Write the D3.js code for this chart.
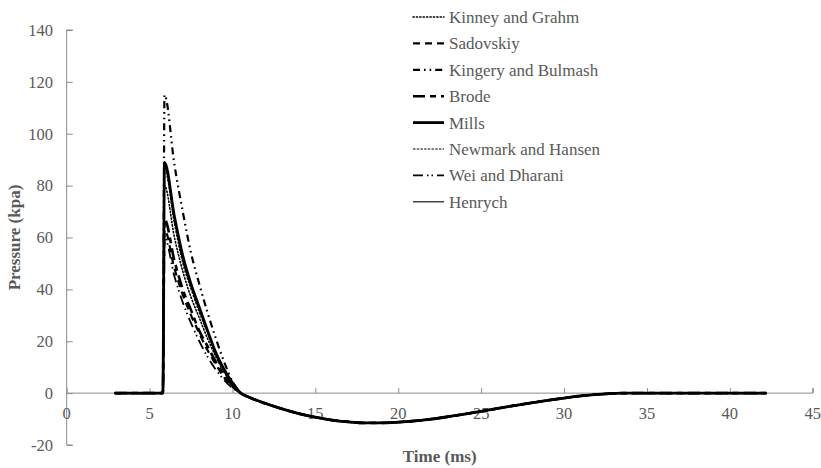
<!DOCTYPE html>
<html>
<head>
<meta charset="utf-8">
<script src="https://cdn.jsdelivr.net/npm/d3@7"></script>
<style>
  body { margin: 0; background: #fff; }
  svg { display: block; }
  text { font-family: "Liberation Serif", "Times New Roman", serif; }
</style>
</head>
<body>
<script>
// time samples (ms) for the positive phase, shared by all models
const timePos = [2.9, 5.8, 5.9, 6.5, 7, 7.5, 8, 8.5, 9, 9.5, 10, 10.5];
// negative phase (common to all models)
const timeNeg = [11, 12, 13, 14, 15, 16, 17, 18, 19, 20, 21, 22, 23, 24, 25, 26, 27, 28, 29, 30, 31, 32, 33, 33.5, 35, 42.2];
const valNeg  = [-1.6, -4.0, -6.1, -7.9, -9.3, -10.4, -11.1, -11.5, -11.5, -11.2, -10.7, -10.0, -9.1, -8.1, -7.0, -5.9, -4.8, -3.8, -2.8, -1.9, -1.1, -0.5, -0.1, 0, 0, 0];

const names = ["Kinney and Grahm", "Sadovskiy", "Kingery and Bulmash", "Brode", "Mills", "Newmark and Hansen", "Wei and Dharani", "Henrych"];
const kinney   = [0, 0, 80, 60, 47, 37, 29, 21, 14, 8, 3.5, 0];
const sadovsk  = [0, 0, 63, 48, 38, 30, 23, 16.5, 11, 6, 2.5, 0];
const kingery  = [0, 0, 115, 88, 70, 54, 42, 31, 21, 12, 4.5, 0];
const brode    = [0, 0, 67, 51, 40, 32, 24, 18, 12, 7, 3, 0];
const mills    = [0, 0, 89, 68, 53, 42, 33, 24, 15.5, 9, 4, 0];
const newmark  = [0, 0, 86, 65, 50, 40, 31, 23, 15, 9, 4, 0];
const wei      = [0, 0, 60, 45, 35, 27, 20, 14, 9, 5, 2, 0];
const henrych  = [0, 0, 88, 67, 51, 41, 32, 23.5, 15, 8.5, 4, 0];
const seriesVals = [kinney, sadovsk, kingery, brode, mills, newmark, wei, henrych];

const xTicks = d3.range(0, 46, 5);
const yTicks = d3.range(-20, 141, 20);

// line styles per model
const styles = [
  { w: 1.6, dash: "1.2,2.2", cap: "round" },
  { w: 2.2, dash: "7,5", cap: "butt" },
  { w: 2.2, dash: "7,4,1.6,4,1.6,4", cap: "butt" },
  { w: 2.6, dash: "12,5,6,5", cap: "butt" },
  { w: 2.8, dash: null, cap: "butt" },
  { w: 1.1, dash: "2.5,1.2", cap: "butt" },
  { w: 1.8, dash: "10,4,1.5,3,1.5,4", cap: "butt" },
  { w: 1.1, dash: null, cap: "butt" }
];

const W = 821, H = 468;
const x = d3.scaleLinear().domain([0, 45]).range([66.7, 812.7]);
const y = d3.scaleLinear().domain([-20, 140]).range([445, 30]);

const svg = d3.select("body").append("svg").attr("width", W).attr("height", H);

const axisCol = "#8c8c8c", textCol = "#595959";

// y axis
const gy = svg.append("g").attr("transform", `translate(${x(0)},0)`)
  .call(d3.axisRight(y).tickValues(yTicks).tickSize(6).tickFormat(""));
gy.select(".domain").attr("stroke", axisCol).attr("d", `M6,${y(-20)}H0V${y(140)}H6`);
gy.selectAll(".tick line").attr("stroke", axisCol);
svg.append("g").selectAll("text").data(yTicks).join("text")
  .attr("x", 53).attr("y", d => y(d)).attr("dy", "0.35em")
  .attr("text-anchor", "end").attr("fill", textCol).attr("font-size", 16.5)
  .text(d => d);

// x axis at zero
const gx = svg.append("g").attr("transform", `translate(0,${y(0)})`)
  .call(d3.axisTop(x).tickValues(xTicks).tickSize(5).tickFormat(""));
gx.select(".domain").attr("stroke", axisCol).attr("d", `M${x(0)},0H${x(45)}V-5`);
gx.selectAll(".tick line").attr("stroke", axisCol);
svg.append("g").selectAll("text").data(xTicks).join("text")
  .attr("x", d => x(d)).attr("y", y(0) + 20).attr("dy", "0.35em")
  .attr("text-anchor", "middle").attr("fill", textCol).attr("font-size", 16.5)
  .text(d => d);

// axis titles
svg.append("text").attr("x", x(22.5)).attr("y", 462)
  .attr("text-anchor", "middle").attr("font-weight", "bold").attr("font-size", 17)
  .attr("fill", textCol).text("Time (ms)");
svg.append("text").attr("transform", `translate(20,${y(60)}) rotate(-90)`)
  .attr("text-anchor", "middle").attr("font-weight", "bold").attr("font-size", 17)
  .attr("fill", textCol).text("Pressure (kpa)");

// series
const line = d3.line().x(d => x(d[0])).y(d => y(d[1])).curve(d3.curveMonotoneX);
const data = seriesVals.map((vals, i) => ({
  name: names[i],
  style: styles[i],
  pts: timePos.map((t, j) => [t, vals[j]]).concat(timeNeg.map((t, j) => [t, valNeg[j]]))
}));

svg.append("g").selectAll("path").data(data).join("path")
  .attr("d", d => line(d.pts))
  .attr("fill", "none").attr("stroke", "#000")
  .attr("stroke-width", d => d.style.w)
  .attr("stroke-dasharray", d => d.style.dash)
  .attr("stroke-linecap", d => d.style.cap);

// legend
const leg = svg.append("g").selectAll("g").data(data).join("g")
  .attr("transform", (d, i) => `translate(413,${17 + i * 26.4})`);
leg.append("line").attr("x1", 0).attr("x2", 31).attr("y1", 0).attr("y2", 0)
  .attr("stroke", "#000")
  .attr("stroke-width", d => d.style.w)
  .attr("stroke-dasharray", d => d.style.dash)
  .attr("stroke-linecap", d => d.style.cap);
leg.append("text").attr("x", 36).attr("y", 0).attr("dy", "0.35em")
  .attr("fill", textCol).attr("font-size", 17).text(d => d.name);
</script>
</body>
</html>
